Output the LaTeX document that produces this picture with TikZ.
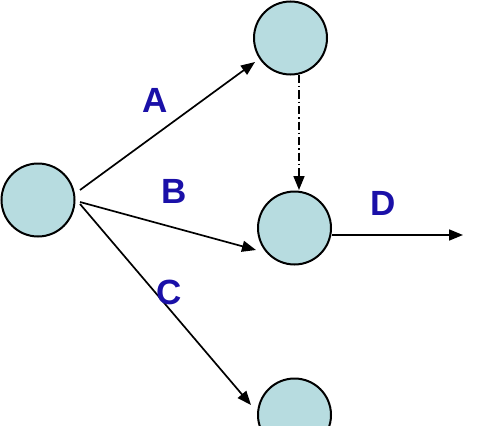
\documentclass[tikz,border=0pt]{standalone}
\usepackage{fontspec}
\setmainfont{Liberation Sans}
\usetikzlibrary{arrows.meta}
\definecolor{circfill}{HTML}{B7DCE0}
\definecolor{lblblue}{HTML}{1A10A8}
\begin{document}
\begin{tikzpicture}[x=1pt,y=-1pt,
  event/.style={circle,draw=black,line width=2pt,fill=circfill,minimum size=73pt,inner sep=0pt},
  act/.style={line width=1.7pt,-{Triangle[length=14pt,width=11pt]}},
  dummy/.style={act,dash pattern=on 8pt off 3pt on 1.5pt off 3pt},
  lbl/.style={text=lblblue,font=\fontsize{35}{35}\selectfont\bfseries,inner sep=0pt}]
\useasboundingbox (0,0) rectangle (494,425);
\node[event] (L) at (38,200) {};
\node[event] (T) at (290.5,38) {};
\node[event] (M) at (294.5,228) {};
\node[event] (Bt) at (294.5,415) {};
\coordinate (sA) at (80,190);
\coordinate (tA) at (255,62);
\coordinate (sB) at (80,202);
\coordinate (tB) at (256,250);
\coordinate (sC) at (80,204);
\coordinate (tC) at (251,405);
\coordinate (sD) at (332,235);
\coordinate (tD) at (463,235);
\coordinate (sX) at (299,75);
\coordinate (tX) at (299,190);
\draw[act] (sA) -- (tA);
\draw[act] (sB) -- (tB);
\draw[act] (sC) -- (tC);
\draw[act] (sD) -- (tD);
\draw[dummy] (sX) -- (tX);
\node[lbl] (lA) at (155.5,100) {A};
\node[lbl] (lB) at (174,191) {B};
\node[lbl] (lC) at (169,292) {C};
\node[lbl] (lD) at (383.5,203) {D};
\end{tikzpicture}
\end{document}
